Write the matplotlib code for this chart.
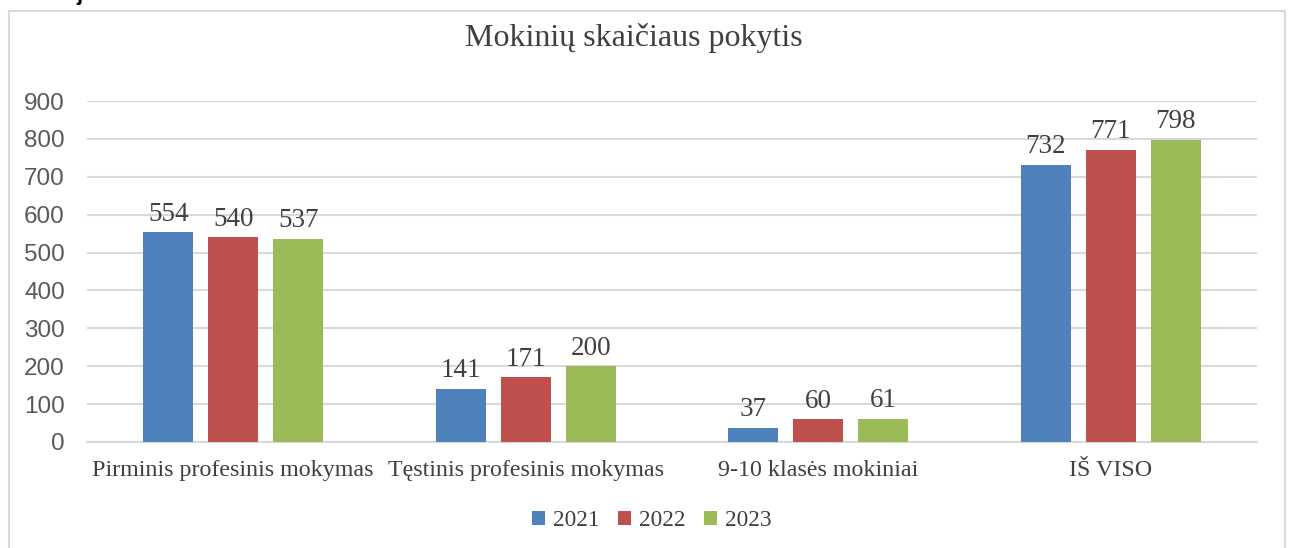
import matplotlib
matplotlib.use("Agg")
import matplotlib.pyplot as plt
import numpy as np
from matplotlib.patches import Rectangle

categories = ["Pirminis profesinis mokymas", "Tęstinis profesinis mokymas",
              "9-10 klasės mokiniai", "IŠ VISO"]
years = ["2021", "2022", "2023"]
v2021 = [554, 141, 37, 732]
v2022 = [540, 171, 60, 771]
v2023 = [537, 200, 61, 798]
colors = ["#4F81BD", "#C0504D", "#9BBB59"]
yticks = [0, 100, 200, 300, 400, 500, 600, 700, 800, 900]

W, H = 1291, 548
fig = plt.figure(figsize=(W / 100, H / 100), dpi=100)
fig.patch.set_facecolor("white")

# outer chart border
fig.patches.append(Rectangle((9 / W, -0.05), (1285 - 9) / W, 1.05 - 11 / H,
                             transform=fig.transFigure, fill=False,
                             edgecolor="#d9d9d9", linewidth=1.5))

# clipped fragment of text above the chart (as in the reference)
fig.text(76 / W, 1.0, "j", va="baseline", ha="left", family="Liberation Sans",
         weight="bold", fontsize=16, color="black")

ax = fig.add_axes([87 / W, 1 - 442 / H, (1257 - 87) / W, (442 - 101) / H])
serif = "Liberation Serif"
sans = "Liberation Sans"

x = np.arange(len(categories))
bw = 50 / 292.5
step = 65 / 292.5
for i, (vals, yr) in enumerate(zip([v2021, v2022, v2023], years)):
    bars = ax.bar(x + (i - 1) * step, vals, width=bw, color=colors[i], label=yr, zorder=3)
    for b, v in zip(bars, vals):
        ax.annotate(str(v), (b.get_x() + b.get_width() / 2, v), xytext=(0, 4),
                    textcoords="offset points", ha="center", va="bottom",
                    fontsize=19.5, family=serif, color="#404040")

ax.set_xlim(-0.5, 3.5)
ax.set_ylim(0, 900)
ax.set_yticks(yticks)
ax.set_yticklabels([str(t) for t in yticks], family=sans, fontsize=17.5, color="#595959")
ax.set_xticks(x)
ax.set_xticklabels(categories, family=serif, fontsize=17.3, color="#404040")
ax.tick_params(axis="both", length=0)
ax.tick_params(axis="y", pad=16)
ax.tick_params(axis="x", pad=13)
ax.grid(axis="y", color="#d9d9d9", linewidth=1.5, zorder=0)
for s in ["top", "right", "left"]:
    ax.spines[s].set_visible(False)
ax.spines["bottom"].set_color("#d9d9d9")
ax.spines["bottom"].set_linewidth(1.5)

fig.text(634 / W, 1 - 38 / H, "Mokinių skaičiaus pokytis", ha="center", va="center",
         family=serif, fontsize=23, color="#404040")

fig.legend(loc="center", bbox_to_anchor=(652 / W, 1 - 521 / H), ncol=3, frameon=False,
           prop={"family": serif, "size": 16.8}, handlelength=0.55, handleheight=0.55,
           handletextpad=0.35, columnspacing=0.8, labelcolor="#404040")

fig.savefig("out.png", dpi=100)
